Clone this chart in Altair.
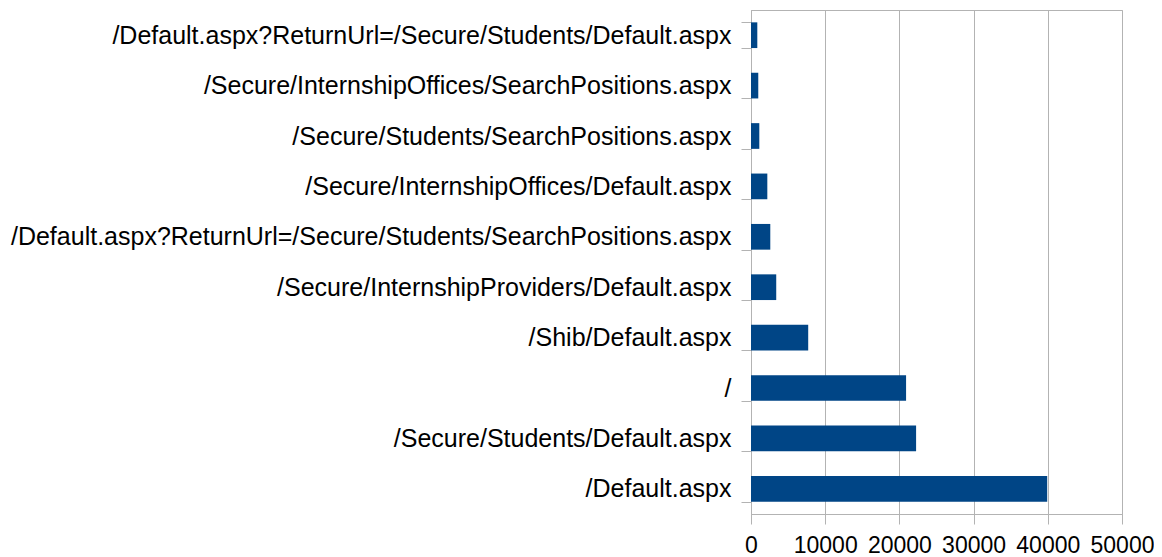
import altair as alt
import pandas as pd

pages = [
    "/Default.aspx?ReturnUrl=/Secure/Students/Default.aspx",
    "/Secure/InternshipOffices/SearchPositions.aspx",
    "/Secure/Students/SearchPositions.aspx",
    "/Secure/InternshipOffices/Default.aspx",
    "/Default.aspx?ReturnUrl=/Secure/Students/SearchPositions.aspx",
    "/Secure/InternshipProviders/Default.aspx",
    "/Shib/Default.aspx",
    "/",
    "/Secure/Students/Default.aspx",
    "/Default.aspx",
]
hits = [850, 980, 1120, 2200, 2600, 3400, 7710, 20900, 22250, 39920]
ticks = [0, 10000, 20000, 30000, 40000, 50000]

df = pd.DataFrame({"page": pages, "hits": hits})

chart = alt.Chart(df).mark_bar(color="#004586").encode(
    x=alt.X("hits:Q",
            scale=alt.Scale(domain=[0, 50000], nice=False),
            axis=alt.Axis(title=None, values=ticks,
                          grid=True, gridColor="#b3b3b3", domainColor="#b3b3b3",
                          tickColor="#b3b3b3", tickSize=10, labelFontSize=23,
                          labelColor="#000000", labelFont="Liberation Sans",
                          labelPadding=10, labelOverlap=False, labelFlush=False,
                          format="d")),
    y=alt.Y("page:N", sort=pages,
            scale=alt.Scale(paddingInner=0.49, paddingOuter=0.245),
            axis=alt.Axis(title=None, tickBand="extent", domainColor="#b3b3b3",
                          tickColor="#b3b3b3", tickSize=10, labelFontSize=25,
                          labelColor="#000000", labelFont="Liberation Sans",
                          labelPadding=10, labelLimit=0)),
).properties(
    width=371, height=504,
    autosize=alt.AutoSizeParams(type="none"),
    padding={"left": 743, "top": 2, "right": 32, "bottom": 43},
).configure_view(stroke="#b3b3b3")

chart.save("out.html", embed_options={"renderer": "svg", "actions": False})
